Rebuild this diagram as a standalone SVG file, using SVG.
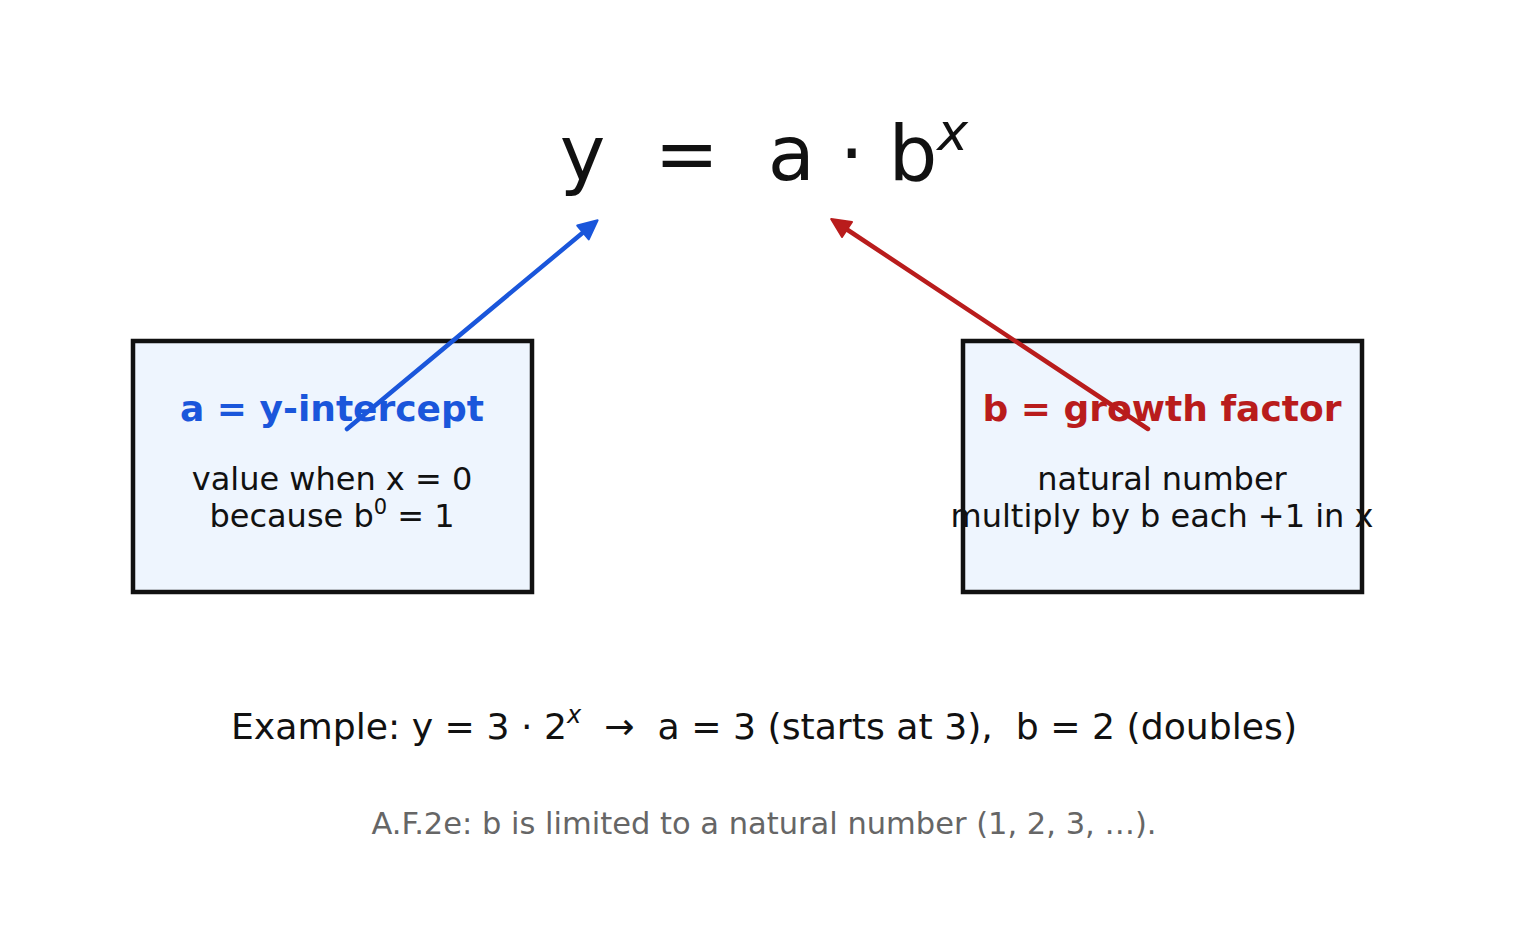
<svg xmlns="http://www.w3.org/2000/svg" width="1528" height="933" viewBox="0 0 1528 933">
<style>
  text { font-family: "DejaVu Sans", "Liberation Sans", sans-serif; }
  .box { fill: #eef5fe; stroke: #111111; stroke-width: 4.5; }
  .ttl { font-weight: bold; font-size: 36px; text-anchor: middle; }
  .body { font-size: 32px; fill: #111111; text-anchor: middle; }
  .conn { fill: none; stroke-width: 4.5; stroke-linecap: round; }
</style>
<defs>
  <marker id="hb" markerUnits="userSpaceOnUse" markerWidth="26" markerHeight="26" viewBox="-2 -12 26 24" refX="0" refY="0" orient="auto" overflow="visible">
    <path d="M0,-9 L19,0 L0,9 Z" fill="#1a56db" stroke="#1a56db" stroke-width="2" stroke-linejoin="round"/>
  </marker>
  <marker id="hr" markerUnits="userSpaceOnUse" markerWidth="26" markerHeight="26" viewBox="-2 -12 26 24" refX="0" refY="0" orient="auto" overflow="visible">
    <path d="M0,-9 L19,0 L0,9 Z" fill="#b91c1c" stroke="#b91c1c" stroke-width="2" stroke-linejoin="round"/>
  </marker>
</defs>
<rect width="1528" height="933" fill="#ffffff"/>

<g id="formula">
  <text x="764" y="180" font-size="77" fill="#111111" text-anchor="middle" xml:space="preserve">y  =  a · b<tspan font-size="52" font-style="italic" dy="-30">x</tspan></text>
</g>

<g id="node-a">
  <rect class="box" x="133" y="341" width="399" height="251"/>
  <text class="ttl" x="332" y="421" fill="#1a56db">a = y-intercept</text>
  <text class="body" x="332" y="490">value when x = 0</text>
  <text class="body" x="332" y="527">because b<tspan font-size="21" dy="-13">0</tspan><tspan dy="13"> = 1</tspan></text>
</g>

<g id="node-b">
  <rect class="box" x="963" y="341" width="399" height="251"/>
  <text class="ttl" x="1162" y="421" fill="#b91c1c">b = growth factor</text>
  <text class="body" x="1162" y="490">natural number</text>
  <text class="body" x="1162" y="527">multiply by b each +1 in x</text>
</g>

<g id="connectors">
  <line class="conn" x1="347" y1="429" x2="583" y2="232.5" stroke="#1a56db" marker-end="url(#hb)"/>
  <line class="conn" x1="1148" y1="429" x2="847" y2="229.5" stroke="#b91c1c" marker-end="url(#hr)"/>
</g>

<g id="example">
  <text x="764" y="739" font-size="36.2" fill="#111111" text-anchor="middle" xml:space="preserve">Example: y = 3 · 2<tspan font-size="24" font-style="italic" dy="-16">x</tspan><tspan dy="16">  →  a = 3 (starts at 3),  b = 2 (doubles)</tspan></text>
</g>

<g id="note">
  <text x="764" y="834" font-size="30.5" fill="#666666" text-anchor="middle">A.F.2e: b is limited to a natural number (1, 2, 3, …).</text>
</g>
</svg>
